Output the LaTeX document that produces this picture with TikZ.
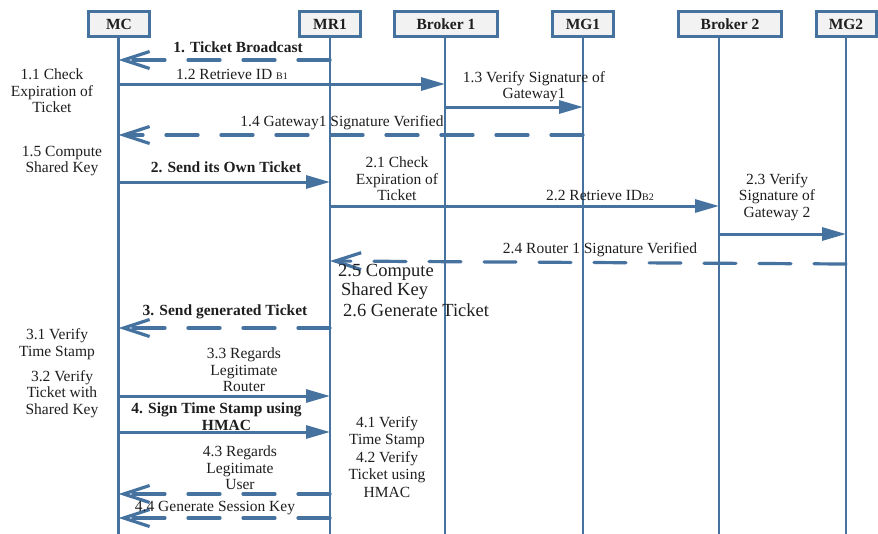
\documentclass[tikz,border=0pt]{standalone}
\usepackage{fontspec}
\setmainfont{Liberation Serif}
\usetikzlibrary{arrows.meta}
\definecolor{seqblue}{RGB}{70,114,160}
\definecolor{boxfill}{RGB}{242,242,242}
\definecolor{txt}{RGB}{30,30,30}
\begin{document}
\begin{tikzpicture}[x=1pt,y=-1pt,
  font=\fontsize{15.5}{16.5}\selectfont,
  actor/.style={draw=seqblue, line width=3pt, fill=boxfill, minimum height=25pt,
    inner sep=0pt, text=txt, font=\fontsize{15.5}{16.5}\selectfont\bfseries},
  life/.style={seqblue, line width=2.4pt},
  msg/.style={seqblue, line width=3pt, -{Triangle[length=24pt,width=13pt]}},
  ret/.style={seqblue, line width=3.2pt, line cap=round, dash pattern=on 32pt off 23pt,
    -{Straight Barb[length=26pt,width=17pt]}},
  lbl/.style={text=txt, inner sep=0pt, align=center},
  bl/.style={lbl, font=\fontsize{15.5}{16.5}\selectfont\bfseries},
  big/.style={text=txt, inner sep=0pt, font=\fontsize{18.5}{19}\selectfont},
]
\useasboundingbox (0,0) rectangle (878,533);

% actors
\node[actor, minimum width=61pt] (MC) at (119,24) {MC};
\node[actor, minimum width=61pt] (MR1) at (330,24) {MR1};
\node[actor, minimum width=103pt] (B1) at (446,24) {Broker 1};
\node[actor, minimum width=61pt] (MG1) at (583,24) {MG1};
\node[actor, minimum width=103pt] (B2) at (730,24) {Broker 2};
\node[actor, minimum width=60pt] (MG2) at (846,24) {MG2};

% lifeline ends
\coordinate (lMC) at (118.5,535);
\coordinate (lMR1) at (330,535);
\coordinate (lB1) at (445,535);
\coordinate (lMG1) at (583,535);
\coordinate (lB2) at (719,535);
\coordinate (lMG2) at (846,535);

\draw[life] (lMC |- MC.south) -- (lMC);
\draw[life] (lMR1 |- MR1.south) -- (lMR1);
\draw[life] (lB1 |- B1.south) -- (lB1);
\draw[life] (lMG1 |- MG1.south) -- (lMG1);
\draw[life] (lB2 |- B2.south) -- (lB2);
\draw[life] (lMG2 |- MG2.south) -- (lMG2);

% messages
\draw[ret] (lMR1 |- 0,60) -- (lMC |- 0,60);
\draw[msg] (lMC |- 0,84) -- (lB1 |- 0,84);
\draw[msg] (lB1 |- 0,107) -- (lMG1 |- 0,107);
\draw[ret] (lMG1 |- 0,135) -- (lMC |- 0,135);
\draw[msg] (lMC |- 0,182) -- (lMR1 |- 0,182);
\draw[msg] (lMR1 |- 0,206) -- (lB2 |- 0,206);
\draw[msg] (lB2 |- 0,234) -- (lMG2 |- 0,234);
\draw[ret] (lMG2 |- 0,264) -- (lMR1 |- 0,261);
\draw[ret] (lMR1 |- 0,328) -- (lMC |- 0,328);
\draw[msg] (lMC |- 0,396) -- (lMR1 |- 0,396);
\draw[msg] (lMC |- 0,432) -- (lMR1 |- 0,432);
\draw[ret] (lMR1 |- 0,494) -- (lMC |- 0,494);
\draw[ret] (lMR1 |- 0,518) -- (lMC |- 0,518);

% labels
\node[bl] (t1) at (238,47) {1. Ticket Broadcast};
\node[lbl] (t12) at (232,74) {1.2 Retrieve ID {\fontsize{10}{10}\selectfont B1}};
\node[lbl] (t11) at (52,91) {1.1 Check\\Expiration of\\Ticket};
\node[lbl] (t13) at (534,86.5) {1.3 Verify Signature of\\Gateway1};
\node[lbl] (t14) at (342,123) {1.4 Gateway1 Signature Verified};
\node[lbl] (t15) at (62,161) {1.5 Compute\\Shared Key};
\node[bl] (t2) at (226,167) {2. Send its Own Ticket};
\node[lbl] (t21) at (397,179) {2.1 Check\\Expiration of\\Ticket};
\node[lbl] (t22) at (600,195) {2.2 Retrieve ID{\fontsize{10}{10}\selectfont B2}};
\node[lbl] (t23) at (777,197) {2.3 Verify\\Signature of\\Gateway 2};
\node[lbl] (t24) at (600,250) {2.4 Router 1 Signature Verified};
\node[big, anchor=west] (t25) at (338,272) {2.5 Compute};
\node[big, anchor=west] (t25b) at (341,291) {Shared Key};
\node[big, anchor=west] (t26) at (343,310) {2.6 Generate Ticket};
\node[bl] (t3) at (225,312) {3. Send generated Ticket};
\node[lbl] (t31) at (57,344) {3.1 Verify\\Time Stamp};
\node[lbl] (t32) at (62,394) {3.2 Verify\\Ticket with\\Shared Key};
\node[lbl] (t33) at (244,370) {3.3 Regards\\Legitimate\\Router};
\node[bl] (t4) at (216.5,416.5) {4. Sign Time Stamp using\\\hspace*{20pt}HMAC};
\node[lbl, font=\fontsize{15.5}{17.5}\selectfont] (t41) at (387,457) {4.1 Verify\\Time Stamp\\4.2 Verify\\Ticket using\\HMAC};
\node[lbl] (t43) at (240,468) {4.3 Regards\\Legitimate\\User};
\node[lbl] (t44) at (215,508) {4.4 Generate Session Key};
\end{tikzpicture}
\end{document}
